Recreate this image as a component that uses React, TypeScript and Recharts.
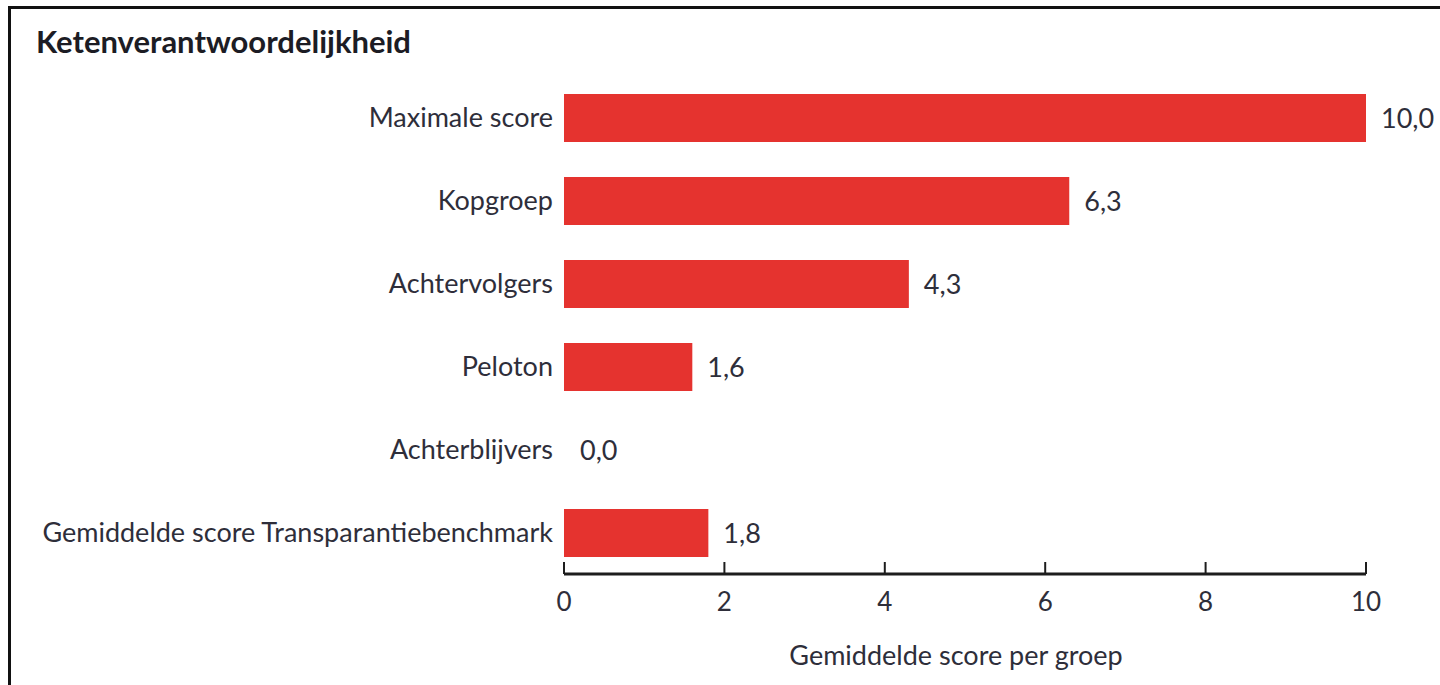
import { BarChart, Bar, XAxis, YAxis, LabelList, Label, Cell } from 'recharts';

const categories = [
  'Maximale score',
  'Kopgroep',
  'Achtervolgers',
  'Peloton',
  'Achterblijvers',
  'Gemiddelde score Transparantiebenchmark',
];
const scores = [10.0, 6.3, 4.3, 1.6, 0.0, 1.8];
const xTicks = [0, 2, 4, 6, 8, 10];

const data = categories.map((name, i) => ({ name, score: scores[i] }));

const FONT = 'Lato, "Open Sans", sans-serif';
const TEXT = '#2e2e3a';
const RED = '#e5332f';

const fmt = (v: number) => v.toFixed(1).replace('.', ',');

function XTick({ x, y, payload }: { x?: number; y?: number; payload?: { value: number } }) {
  return (
    <g>
      <line x1={x} x2={x} y1={y} y2={(y ?? 0) - 12} stroke="#1d1d1d" strokeWidth={2} />
      <text x={x} y={(y ?? 0) + 37} textAnchor="middle" fill={TEXT} fontSize={26} fontFamily={FONT}>
        {payload?.value}
      </text>
    </g>
  );
}

export default function App() {
  return (
    <div style={{ position: 'fixed', left: 0, top: 0, width: 1440, height: 685, background: '#fff', overflow: 'hidden' }}>
      <div
        style={{
          position: 'absolute',
          left: 8,
          top: 6,
          width: 1440,
          height: 700,
          borderTop: '3px solid #111',
          borderLeft: '3px solid #111',
        }}
      />
      <div
        style={{
          position: 'absolute',
          left: 36,
          top: 22,
          fontFamily: FONT,
          fontWeight: 700,
          fontSize: 31,
          lineHeight: 'normal',
          color: '#1c1c24',
          whiteSpace: 'nowrap',
        }}
      >
        Ketenverantwoordelijkheid
      </div>
      <div style={{ position: 'absolute', left: 0, top: 0 }}>
        <BarChart
          width={1440}
          height={685}
          data={data}
          layout="vertical"
          margin={{ top: 76, right: 74, bottom: 0, left: 0 }}
        >
          <XAxis
            type="number"
            domain={[0, 10]}
            ticks={xTicks}
            height={111}
            tickSize={0}
            tickMargin={0}
            tickLine={false}
            axisLine={{ stroke: '#1d1d1d', strokeWidth: 3 }}
            tick={<XTick />}
            interval={0}
          >
            <Label
              value="Gemiddelde score per groep"
              position="insideBottom"
              offset={20}
              dx={-9}
              fill={TEXT}
              fontSize={27}
              fontFamily={FONT}
            />
          </XAxis>
          <YAxis
            type="category"
            dataKey="name"
            width={564}
            tickSize={0}
            tickMargin={11}
            tickLine={false}
            axisLine={false}
            interval={0}
            tick={{ fill: TEXT, fontSize: 27, fontFamily: FONT }}
          />
          <Bar dataKey="score" fill={RED} barSize={48} minPointSize={1} isAnimationActive={false}>
            {data.map((d) => (
              <Cell key={d.name} fill={d.score > 0 ? RED : 'none'} />
            ))}
            <LabelList
              dataKey="score"
              position="right"
              offset={15}
              formatter={(v: number) => fmt(v)}
              fill={TEXT}
              fontSize={27}
              fontFamily={FONT}
            />
          </Bar>
        </BarChart>
      </div>
    </div>
  );
}
